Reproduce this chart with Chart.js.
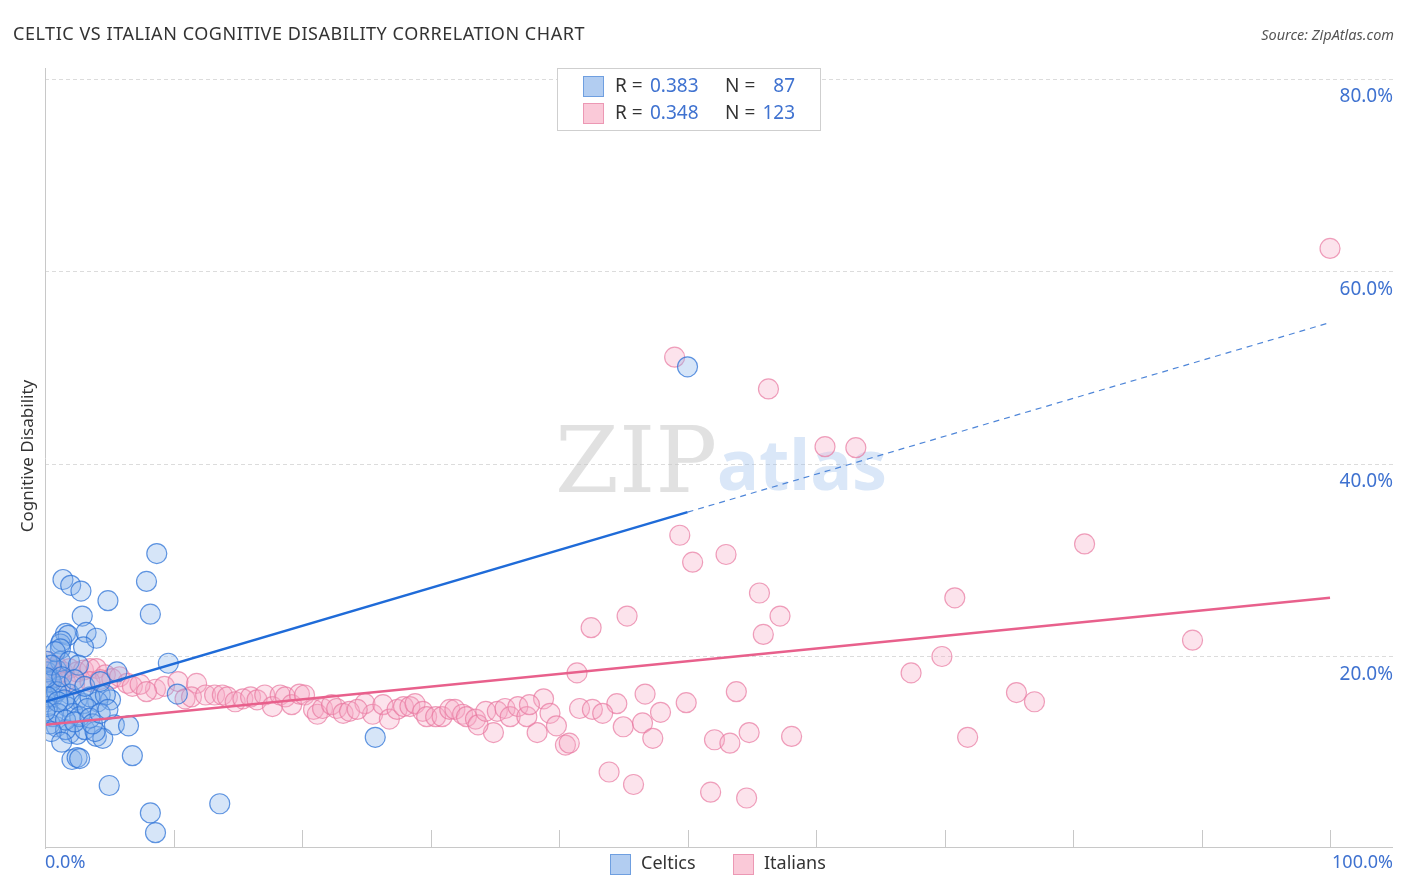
<!DOCTYPE html>
<html>
<head>
<meta charset="utf-8">
<title>Celtic vs Italian Cognitive Disability Correlation Chart</title>
<script src="https://cdn.jsdelivr.net/npm/chart.js@4.4.0/dist/chart.umd.min.js"></script>
<style>
  body { margin: 0; background: #fff; }
  #wrap { position: relative; width: 1406px; height: 892px; font-family: 'Noto Sans', sans-serif; }
  #title { position: absolute; left: 13px; top: 21px; font-size: 18px; color: #333; letter-spacing: 0.55px; }
  #source { position: absolute; right: 12px; top: 24px; font-size: 14.5px; color: #555; font-style: italic; }
  canvas { position: absolute; left: 0; top: 0; }
</style>
</head>
<body>
<div id="wrap">
  <canvas id="myChart" width="1406" height="892"></canvas>
  <div id="title">CELTIC VS ITALIAN COGNITIVE DISABILITY CORRELATION CHART</div>
  <div id="source">Source: ZipAtlas.com</div>
</div>
<script>
// Celtics (blue), x = % share, y = cognitive disability %
const celticsX = [50.0, 8.7, 7.9, 1.4, 2.0, 2.8, 4.9, 8.2, 2.9, 1.6, 1.8, 1.2, 1.3, 3.2, 4.0, 3.0, 9.6, 5.6, 4.3, 5.1,
  4.1, 0.9, 1.9, 2.5, 3.1, 4.0, 4.5, 3.9, 5.4, 6.5, 6.8, 2.1, 2.5, 2.7, 5.0, 8.2, 8.6, 13.6, 25.7, 10.3,
  1.2, 0.9, 0.4, 0.15, 0.6, 1.2, 1.9, 2.5, 3.0, 3.5, 4.7, 1.7, 2.2, 2.7, 3.3, 0.6, 0.4, 1.6, 0.15, 0.1,
  0.2, 0.5, 0.9, 1.5, 1.0, 1.6, 2.3, 3.5, 1.2, 0.15, 0.8, 1.9, 2.6, 0.5, 0.1, 1.3, 2.3, 3.1, 0.2, 1.0,
  3.7, 4.3, 4.9, 0.0, 0.5, 1.3, 4.3];
const celticsY = [50.1, 30.7, 27.8, 28.0, 27.4, 26.8, 25.8, 24.4, 24.2, 22.4, 22.2, 21.3, 21.6, 22.5, 21.9, 21.0, 19.3, 18.4, 16.0, 15.5,
  15.3, 12.7, 12.0, 11.9, 12.4, 11.7, 11.5, 12.2, 12.9, 12.8, 9.7, 9.3, 9.5, 9.4, 6.6, 3.75, 1.7, 4.7, 11.6, 16.1,
  20.8, 18.6, 17.6, 16.6, 15.8, 16.9, 16.1, 15.5, 15.1, 15.8, 16.0, 14.8, 14.1, 13.75, 14.6, 13.75, 13.0, 12.4, 18.4, 15.3,
  14.8, 17.4, 16.35, 15.5, 14.1, 13.4, 13.2, 13.6, 19.5, 19.5, 20.5, 19.5, 19.1, 19.1, 17.8, 17.9, 17.6, 16.9, 15.8, 15.3,
  13.0, 14.1, 14.5, 14.3, 12.2, 11.1, 17.4];

// Italians (pink)
const italiansX = [100.0, 49.0, 56.3, 60.7, 63.1, 49.4, 53.0, 50.4, 80.9, 55.6, 70.8, 45.3, 42.5, 57.2, 55.9, 89.3, 69.8, 67.4, 41.4, 53.8,
  46.7, 75.6, 77.0, 49.9, 44.5, 47.9, 38.8, 39.3, 39.8, 38.3, 34.9, 40.5, 40.8, 41.6, 42.6, 43.4, 45.0, 46.5, 47.3, 52.1,
  53.3, 54.8, 58.1, 43.9, 45.8, 51.8, 54.6, 71.8,
  24.9, 25.5, 26.3, 26.8, 27.4, 27.9, 28.4, 28.8, 29.4, 29.7, 30.4, 30.9, 31.5, 31.9, 32.5, 32.8, 33.5, 33.7, 34.3, 35.2,
  35.8, 36.2, 36.8, 37.5, 37.7,
  8.6, 9.3, 10.35, 11.8, 10.9, 11.4, 12.5, 13.2, 13.8, 14.2, 14.8, 15.4, 16.0, 16.5, 17.1, 17.7, 18.3, 18.7, 19.2, 19.8,
  20.2, 20.9, 21.2, 21.6, 22.3, 22.7, 23.2, 23.7, 24.3,
  0.4, 0.9, 1.4, 1.9, 2.5, 3.0, 3.5, 4.0, 4.7, 5.2, 5.8, 6.4, 6.8, 7.4, 7.9, 0.2, 0.8, 1.6, 2.3, 3.5, 4.3];
const italiansY = [62.4, 51.1, 47.8, 41.8, 41.7, 32.6, 30.6, 29.8, 31.7, 26.6, 26.1, 24.2, 23.0, 24.2, 22.3, 21.7, 20.0, 18.3, 18.3, 16.35,
  16.1, 16.25, 15.3, 15.2, 15.1, 14.2, 15.6, 14.1, 12.8, 12.1, 12.1, 10.8, 11.0, 14.6, 14.5, 14.1, 12.7, 13.1, 11.5, 11.35,
  11.0, 12.1, 11.7, 8.0, 6.7, 5.9, 5.3, 11.6,
  15.1, 14.0, 15.0, 13.5, 14.5, 14.8, 14.8, 15.1, 14.3, 13.75, 13.75, 13.75, 14.5, 14.5, 14.0, 13.75, 13.5, 12.9, 14.3, 14.3,
  14.6, 13.75, 14.8, 13.75, 15.0,
  16.6, 16.9, 17.4, 17.2, 15.6, 15.8, 16.0, 16.0, 16.0, 15.8, 15.3, 15.6, 15.8, 15.5, 16.0, 14.8, 16.0, 15.8, 15.0, 16.1,
  16.0, 14.5, 14.0, 14.6, 15.0, 14.6, 14.1, 14.3, 14.5,
  18.75, 19.0, 18.4, 18.75, 18.4, 18.6, 18.75, 18.75, 18.1, 17.7, 17.9, 17.2, 16.9, 17.1, 16.35, 19.5, 17.9, 17.4, 17.1, 17.4, 17.6];

// trend lines: [x, y] end points
const celticsTrend = [[0, 15.3], [50, 35.0]];
const celticsTrendExt = [[50, 35.0], [100, 54.7]];
const italiansTrend = [[0, 12.9], [100, 26.1]];

const yTicks = [20, 40, 60, 80];
const legendRows = [
  { r: '0.383', n: ' 87', fill: 'rgba(170,200,240,0.9)', stroke: '#6f9fe0' },
  { r: '0.348', n: '123', fill: 'rgba(250,195,212,0.9)', stroke: '#ec98b4' }
];

const toPts = (xs, ys) => xs.map((x, i) => ({ x: x, y: ys[i] }));
const toLine = arr => arr.map(p => ({ x: p[0], y: p[1] }));

const BLUE_TXT = '#3f72d0';
const FONT = "'Noto Sans', sans-serif";

const extras = {
  id: 'extras',
  beforeDatasetsDraw(chart) {
    const ctx = chart.ctx;
    ctx.save();
    // watermark
    ctx.font = "92px 'DejaVu Serif', serif";
    ctx.fillStyle = 'rgba(200,200,200,0.55)';
    ctx.textBaseline = 'alphabetic';
    ctx.textAlign = 'left';
    ctx.fillText('ZIP', 555, 492);
    ctx.font = "bold 70px " + FONT;
    ctx.fillStyle = 'rgba(150,185,235,0.35)';
    ctx.fillText('atlas', 717, 490);
    ctx.restore();
  },
  afterDraw(chart) {
    const ctx = chart.ctx;
    const xs = chart.scales.x, ys = chart.scales.y;
    const area = chart.chartArea;
    const y0 = ys.getPixelForValue(0);
    ctx.save();
    // axis lines
    ctx.strokeStyle = '#c8c8c8';
    ctx.lineWidth = 1;
    ctx.beginPath();
    ctx.moveTo(area.left + 0.5, area.top);
    ctx.lineTo(area.left + 0.5, y0);
    ctx.moveTo(area.left, y0 - 1.5);
    ctx.lineTo(area.right, y0 - 1.5);
    ctx.stroke();
    // x tick marks
    for (let v = 10; v <= 100; v += 10) {
      const px = Math.round(xs.getPixelForValue(v)) + 0.5;
      ctx.beginPath();
      ctx.moveTo(px, y0 - 2);
      ctx.lineTo(px, y0 - 19);
      ctx.stroke();
    }
    // x labels
    ctx.font = '18px ' + FONT;
    ctx.fillStyle = BLUE_TXT;
    ctx.textBaseline = 'middle';
    ctx.textAlign = 'left';
    ctx.fillText('0.0%', area.left, 863);
    ctx.textAlign = 'right';
    ctx.fillText('100.0%', area.right, 863);
    // y title
    ctx.save();
    ctx.translate(28, 456);
    ctx.rotate(-Math.PI / 2);
    ctx.textAlign = 'center';
    ctx.fillStyle = '#333';
    ctx.font = '17px ' + FONT;
    ctx.fillText('Cognitive Disability', 0, 0);
    ctx.restore();
    // bottom legend
    const items = [
      { label: 'Celtics', fill: 'rgba(170,200,240,0.9)', stroke: '#6f9fe0', x: 610 },
      { label: 'Italians', fill: 'rgba(250,195,212,0.9)', stroke: '#ec98b4', x: 733 }
    ];
    ctx.textAlign = 'left';
    ctx.font = '18px ' + FONT;
    items.forEach(it => {
      ctx.fillStyle = it.fill;
      ctx.strokeStyle = it.stroke;
      ctx.fillRect(it.x, 854, 21, 21);
      ctx.strokeRect(it.x + 0.5, 854.5, 20, 20);
      ctx.fillStyle = '#333';
      ctx.fillText(it.label, it.x + 31, 864);
    });
    // top stats box
    ctx.fillStyle = '#fff';
    ctx.fillRect(557, 68, 263, 62);
    ctx.strokeStyle = '#cfcfcf';
    ctx.strokeRect(557.5, 68.5, 263, 62);
    legendRows.forEach((row, i) => {
      const cy = 86 + i * 27;
      ctx.fillStyle = row.fill;
      ctx.strokeStyle = row.stroke;
      ctx.fillRect(583, cy - 10, 21, 21);
      ctx.strokeRect(583.5, cy - 9.5, 20, 20);
      ctx.font = '19px ' + FONT;
      ctx.fillStyle = '#333';
      ctx.fillText('R = ', 615, cy + 1);
      ctx.fillText('N = ', 725, cy + 1);
      ctx.fillStyle = BLUE_TXT;
      ctx.fillText(row.r, 650, cy + 1);
      ctx.textAlign = 'right';
      ctx.fillText(row.n, 795, cy + 1);
      ctx.textAlign = 'left';
    });
    ctx.restore();
  }
};

document.addEventListener('DOMContentLoaded', () => {
  const ctx1 = document.getElementById('myChart');
  new Chart(ctx1, {
    type: 'scatter',
    data: {
      datasets: [
        {
          label: 'Celtics trend',
          type: 'line',
          data: toLine(celticsTrend),
          borderColor: '#1f6bd8',
          borderWidth: 2.5,
          pointRadius: 0,
          fill: false,
          order: 0
        },
        {
          label: 'Celtics trend ext',
          type: 'line',
          data: toLine(celticsTrendExt),
          borderColor: '#4f86d8',
          borderWidth: 1.2,
          borderDash: [6, 5],
          pointRadius: 0,
          fill: false,
          order: 0
        },
        {
          label: 'Italians trend',
          type: 'line',
          data: toLine(italiansTrend),
          borderColor: '#e8608c',
          borderWidth: 2.5,
          pointRadius: 0,
          fill: false,
          order: 0
        },
        {
          label: 'Italians',
          data: toPts(italiansX, italiansY),
          backgroundColor: 'rgba(246,170,196,0.33)',
          borderColor: 'rgba(232,120,160,0.7)',
          borderWidth: 1.2,
          pointRadius: 10,
          order: 2
        },
        {
          label: 'Celtics',
          data: toPts(celticsX, celticsY),
          backgroundColor: 'rgba(130,175,235,0.33)',
          borderColor: 'rgba(45,115,215,0.75)',
          borderWidth: 1.2,
          pointRadius: 10,
          order: 1
        }
      ]
    },
    options: {
      responsive: false,
      animation: false,
      layout: { padding: { left: 45, right: 13, top: 68, bottom: 35 } },
      plugins: {
        legend: { display: false },
        tooltip: { enabled: false }
      },
      scales: {
        x: {
          type: 'linear',
          min: 0,
          max: 104.9,
          grid: { display: false },
          border: { display: false },
          ticks: { display: false }
        },
        y: {
          position: 'right',
          min: 0,
          max: 81.15,
          afterBuildTicks: axis => { axis.ticks = yTicks.map(v => ({ value: v })); },
          grid: {
            color: '#dcdcdc',
            lineWidth: 1,
            drawTicks: false
          },
          border: { display: false, dash: [4, 3] },
          ticks: {
            mirror: true,
            padding: 0,
            labelOffset: 18,
            color: BLUE_TXT,
            font: { size: 19, family: FONT },
            callback: v => v.toFixed(1) + '%'
          }
        }
      }
    },
    plugins: [extras]
  });
});
</script>
</body>
</html>
